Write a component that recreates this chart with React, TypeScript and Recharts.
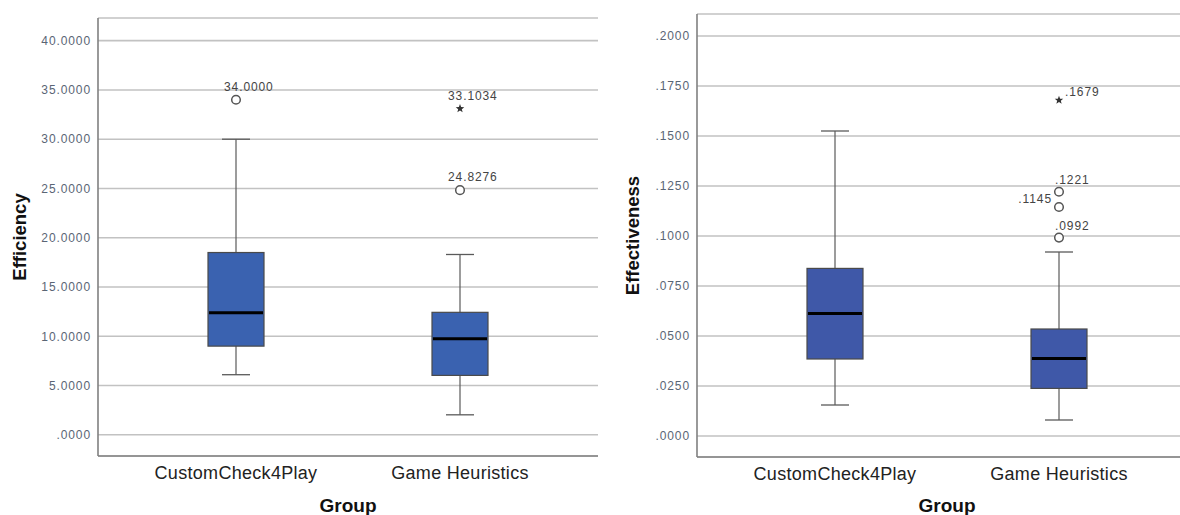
import { ComposedChart, Bar, Scatter, XAxis, YAxis, CartesianGrid, Label } from 'recharts';

const groups = ['CustomCheck4Play', 'Game Heuristics'];

// Efficiency: whisker ends, quartiles and median per group
const efficiencyLow = [6.1, 2.03];
const efficiencyQ1 = [9.0, 6.03];
const efficiencyMedian = [12.4, 9.76];
const efficiencyQ3 = [18.5, 12.43];
const efficiencyHigh = [30.0, 18.3];
const efficiencyTicks = [0, 5, 10, 15, 20, 25, 30, 35, 40];

const efficiencyOutlierGroup = ['CustomCheck4Play', 'Game Heuristics', 'Game Heuristics'];
const efficiencyOutlierValue = [34.0, 33.1034, 24.8276];
const efficiencyOutlierKind = ['circle', 'star', 'circle'];

// Effectiveness
const effectivenessLow = [0.0155, 0.008];
const effectivenessQ1 = [0.0385, 0.0238];
const effectivenessMedian = [0.0613, 0.0387];
const effectivenessQ3 = [0.0838, 0.0535];
const effectivenessHigh = [0.1525, 0.092];
const effectivenessTicks = [0, 0.025, 0.05, 0.075, 0.1, 0.125, 0.15, 0.175, 0.2];

const effectivenessOutlierGroup = ['Game Heuristics', 'Game Heuristics', 'Game Heuristics', 'Game Heuristics'];
const effectivenessOutlierValue = [0.1679, 0.1221, 0.1145, 0.0992];
const effectivenessOutlierKind = ['star', 'circle', 'circle', 'circle'];

const FONT = '"Liberation Sans", Arial, sans-serif';

type Summary = { group: string; low: number; q1: number; median: number; q3: number; high: number };
type Outlier = { group: string; value: number; kind: string; text: string };

const buildRows = (lo: number[], q1: number[], md: number[], q3: number[], hi: number[]): Summary[] =>
  groups.map((g, i) => ({ group: g, low: lo[i], q1: q1[i], median: md[i], q3: q3[i], high: hi[i] }));

const buildOutliers = (g: string[], v: number[], k: string[], fmt: (n: number) => string): Outlier[] =>
  g.map((group, i) => ({ group, value: v[i], kind: k[i], text: fmt(v[i]) }));

const fmtEfficiency = (v: number) => (v === 0 ? '.0000' : v.toFixed(4));
const fmtEffectiveness = (v: number) => v.toFixed(4).replace(/^0/, '');

// box drawn inside the whisker range bar; y positions follow the bar's own pixel span
function BoxShape(props: any) {
  const { x, y, width, height, payload, fill } = props;
  const top = Math.min(y, y + height);
  const span = Math.abs(height);
  const { low, q1, median, q3, high } = payload as Summary;
  const toY = (v: number) => top + ((high - v) / (high - low)) * span;
  const cx = x + width / 2;
  const cap = width / 4;
  return (
    <g>
      <line x1={cx} x2={cx} y1={toY(high)} y2={toY(low)} stroke="#5a5a5a" strokeWidth={1.2} />
      <line x1={cx - cap} x2={cx + cap} y1={toY(high)} y2={toY(high)} stroke="#5a5a5a" strokeWidth={1.3} />
      <line x1={cx - cap} x2={cx + cap} y1={toY(low)} y2={toY(low)} stroke="#5a5a5a" strokeWidth={1.3} />
      <rect x={x} y={toY(q3)} width={width} height={toY(q1) - toY(q3)} fill={fill} stroke="#4a4a4a" strokeWidth={1.2} />
      <line x1={x + 1} x2={x + width - 1} y1={toY(median)} y2={toY(median)} stroke="#000" strokeWidth={3} />
    </g>
  );
}

// where each outlier's value label sits relative to its marker
const labelPlacement: Record<string, { dx: number; dy: number; anchor: string }> = {
  '.1679': { dx: 6, dy: -4, anchor: 'start' },
  '.1221': { dx: -4, dy: -8, anchor: 'start' },
  '.1145': { dx: -7, dy: -4, anchor: 'end' },
  '.0992': { dx: -4, dy: -8, anchor: 'start' },
};

function OutlierShape(props: any) {
  const { cx, cy, payload } = props;
  const o = payload as Outlier;
  const place = labelPlacement[o.text] ?? { dx: -12, dy: -9, anchor: 'start' };
  const marker =
    o.kind === 'star' ? (
      <polygon
        points={Array.from({ length: 10 }, (_, i) => {
          const r = i % 2 === 0 ? 4.5 : 1.9;
          const a = -Math.PI / 2 + (i * Math.PI) / 5;
          return `${cx + r * Math.cos(a)},${cy + r * Math.sin(a)}`;
        }).join(' ')}
        fill="#333"
      />
    ) : (
      <circle cx={cx} cy={cy} r={4.3} fill="#fff" stroke="#555" strokeWidth={1.5} />
    );
  return (
    <g>
      {marker}
      <text
        x={cx + place.dx}
        y={cy + place.dy}
        textAnchor={place.anchor as any}
        fontFamily={FONT}
        fontSize={12}
        letterSpacing={0.9}
        fill="#444"
      >
        {o.text}
      </text>
    </g>
  );
}

function YTitle({ viewBox, title, titleLeft }: any) {
  const cy = viewBox.y + viewBox.height / 2;
  return (
    <text
      x={titleLeft}
      y={cy}
      transform={`rotate(-90 ${titleLeft} ${cy})`}
      textAnchor="middle"
      dominantBaseline="central"
      fontFamily={FONT}
      fontSize={18.5}
      fontWeight="bold"
      fill="#111"
    >
      {title}
    </text>
  );
}

function XTitle({ viewBox }: any) {
  const cx = viewBox.x + viewBox.width / 2;
  return (
    <text x={cx} y={512} textAnchor="middle" fontFamily={FONT} fontSize={19} fontWeight="bold" fill="#111">
      Group
    </text>
  );
}

interface PanelProps {
  rows: Summary[];
  outliers: Outlier[];
  ticks: number[];
  domain: [number, number];
  format: (v: number) => string;
  title: string;
  titleLeft: number;
  fill: string;
  top: number;
  bottom: number;
  left: number;
  right: number;
}

function BoxPanel({ rows, outliers, ticks, domain, format, title, titleLeft, fill, top, bottom, left, right }: PanelProps) {
  return (
    <ComposedChart width={600} height={515} data={rows} margin={{ top, right, bottom: bottom - 30, left }}>
      <CartesianGrid vertical={false} stroke="#c2c2c2" strokeWidth={1.6} />
      <XAxis
        dataKey="group"
        type="category"
        height={30}
        allowDuplicatedCategory={false}
        padding={{ left: 26, right: 26 }}
        axisLine={{ stroke: '#808080', strokeWidth: 1.6 }}
        tickLine={false}
        tickSize={0}
        tickMargin={10}
        tick={{ fill: '#222', fontSize: 18, fontFamily: FONT, letterSpacing: 0.3 } as any}
      >
        <Label content={<XTitle />} />
      </XAxis>
      <YAxis
        type="number"
        domain={domain}
        ticks={ticks}
        allowDataOverflow
        width={60}
        axisLine={{ stroke: '#808080', strokeWidth: 1.6 }}
        tickLine={false}
        tickSize={0}
        tickMargin={7}
        tickFormatter={format}
        tick={{ fill: '#5a6575', fontSize: 12, fontFamily: FONT, letterSpacing: 0.9 } as any}
      >
        <Label content={<YTitle title={title} titleLeft={titleLeft} />} />
      </YAxis>
      <Bar
        dataKey={(d: Summary) => [d.low, d.high]}
        barSize={56}
        fill={fill}
        shape={<BoxShape />}
        isAnimationActive={false}
      />
      <Scatter data={outliers} dataKey="value" shape={<OutlierShape />} isAnimationActive={false} />
    </ComposedChart>
  );
}

export default function App() {
  const effRows = buildRows(efficiencyLow, efficiencyQ1, efficiencyMedian, efficiencyQ3, efficiencyHigh);
  const effOut = buildOutliers(efficiencyOutlierGroup, efficiencyOutlierValue, efficiencyOutlierKind, fmtEfficiency);
  const ectRows = buildRows(effectivenessLow, effectivenessQ1, effectivenessMedian, effectivenessQ3, effectivenessHigh);
  const ectOut = buildOutliers(
    effectivenessOutlierGroup,
    effectivenessOutlierValue,
    effectivenessOutlierKind,
    fmtEffectiveness
  );

  return (
    <div
      style={{
        position: 'absolute',
        left: 0,
        top: 0,
        width: 1180,
        height: 515,
        overflow: 'hidden',
        background: '#fff',
      }}
    >
      <div style={{ position: 'absolute', left: 0, top: 0 }}>
        <BoxPanel
          rows={effRows}
          outliers={effOut}
          ticks={efficiencyTicks}
          domain={[-2.15, 42.3]}
          format={fmtEfficiency}
          title="Efficiency"
          titleLeft={19}
          fill="#3a62b0"
          top={18}
          bottom={59}
          left={38}
          right={2}
        />
      </div>
      <div style={{ position: 'absolute', left: 600, top: 0 }}>
        <BoxPanel
          rows={ectRows}
          outliers={ectOut}
          ticks={effectivenessTicks}
          domain={[-0.0105, 0.211]}
          format={fmtEffectiveness}
          title="Effectiveness"
          titleLeft={32}
          fill="#3f58a8"
          top={14}
          bottom={58}
          left={37}
          right={3}
        />
      </div>
    </div>
  );
}
